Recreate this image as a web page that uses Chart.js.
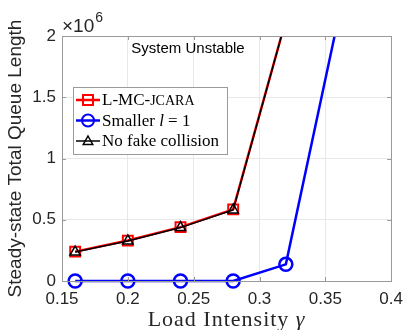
<!DOCTYPE html>
<html>
<head>
<meta charset="utf-8">
<script src="https://cdn.jsdelivr.net/npm/chart.js@4.5.1/dist/chart.umd.min.js"></script>
<style>
  body { margin: 0; background: #fff; }
  #wrap { width: 411px; height: 330px; }
</style>
</head>
<body>
<div id="wrap"><canvas id="chart" width="411" height="330"></canvas></div>
<script>
// load intensity (x) for each series
const gamma = [0.16, 0.2, 0.24, 0.28, 0.32]
const gammaSmaller = [0.16, 0.2, 0.24, 0.28, 0.32, 0.36]

// steady-state total queue length
const queueJcara = [240000, 330000, 440000, 585000, 2130000]
const queueSmaller = [0, 0, 0, 0, 136000, 2150000]
const queueNoFake = [236000, 327000, 436000, 580000, 2130000]

// axis ticks
const xTicks = [0.15, 0.2, 0.25, 0.3, 0.35, 0.4]
const yTicks = [0, 0.5, 1, 1.5, 2] // x 10^6

// legend text, split where the font changes
const seriesLabels = [
  [['L-MC-', 'n'], ['JCARA', 'sc']],
  [['Smaller ', 'n'], ['l', 'i'], [' = 1', 'n']],
  [['No fake collision', 'n']]
]
const seriesColors = ['#ff0000', '#0000ff', '#000000']
const seriesMarkers = ['rect', 'circle', 'triangle']

const yTitle = 'Steady-state Total Queue Length'
const xTitle = 'Load Intensity '
const xTitleSym = 'γ'
const note = 'System Unstable'

const frameColor = '#9a9a9a'
const textColor = '#262626'
const serif = '"Liberation Serif", "DejaVu Serif", serif'
const sans = '"Liberation Sans", Arial, sans-serif'

function toPoints (xs, ys) {
  return xs.map((x, i) => ({ x: x, y: ys[i] }))
}

function marker (ctx, style, x, y, r) {
  ctx.beginPath()
  if (style === 'rect') {
    ctx.rect(x - r, y - r, 2 * r, 2 * r)
  } else if (style === 'circle') {
    ctx.arc(x, y, r, 0, Math.PI * 2)
  } else {
    ctx.moveTo(x, y - r)
    ctx.lineTo(x + r * 0.95, y + r * 0.7)
    ctx.lineTo(x - r * 0.95, y + r * 0.7)
    ctx.closePath()
  }
  ctx.stroke()
}

function richText (ctx, parts, x, y, size) {
  for (const [txt, kind] of parts) {
    if (kind === 'sc') ctx.font = Math.round(size * 0.8) + 'px ' + serif
    else if (kind === 'i') ctx.font = 'italic ' + size + 'px ' + serif
    else ctx.font = size + 'px ' + serif
    ctx.fillText(txt, x, y)
    x += ctx.measureText(txt).width
  }
}

// box, inward ticks, legend and the loose labels
const decorations = {
  id: 'decorations',
  afterDraw (chart) {
    const ctx = chart.ctx
    const a = chart.chartArea
    const xs = chart.scales.x
    const ys = chart.scales.y
    ctx.save()

    ctx.strokeStyle = frameColor
    ctx.lineWidth = 1
    ctx.strokeRect(Math.round(a.left) + 0.5, Math.round(a.top) + 0.5, Math.round(a.right - a.left), Math.round(a.bottom - a.top))
    ctx.beginPath()
    for (const v of xTicks) {
      const px = Math.round(xs.getPixelForValue(v)) + 0.5
      ctx.moveTo(px, a.bottom); ctx.lineTo(px, a.bottom - 4)
      ctx.moveTo(px, a.top); ctx.lineTo(px, a.top + 4)
    }
    for (const v of yTicks) {
      const py = Math.round(ys.getPixelForValue(v * 1e6)) + 0.5
      ctx.moveTo(a.left, py); ctx.lineTo(a.left + 4, py)
      ctx.moveTo(a.right, py); ctx.lineTo(a.right - 4, py)
    }
    ctx.stroke()

    // multiplier
    ctx.fillStyle = textColor
    ctx.textBaseline = 'alphabetic'
    ctx.textAlign = 'left'
    ctx.font = '19px ' + sans
    ctx.fillText('×10', a.left, 32)
    const w = ctx.measureText('×10').width
    ctx.font = '14px ' + sans
    ctx.fillText('6', a.left + w + 1, 22)

    // note
    ctx.font = '15px ' + sans
    ctx.fillStyle = '#000'
    ctx.textAlign = 'center'
    ctx.textBaseline = 'middle'
    ctx.fillText(note, 188, 49)

    // x title
    ctx.letterSpacing = '1px'
    ctx.font = '22px ' + serif
    const w1 = ctx.measureText(xTitle).width
    ctx.font = 'italic 22px ' + serif
    const w2 = ctx.measureText(xTitleSym).width
    const x0 = (a.left + a.right) / 2 - (w1 + w2) / 2
    ctx.textAlign = 'left'
    ctx.textBaseline = 'alphabetic'
    ctx.fillStyle = textColor
    ctx.font = '22px ' + serif
    ctx.fillText(xTitle, x0, 326)
    ctx.font = 'italic 22px ' + serif
    ctx.fillText(xTitleSym, x0 + w1, 326)
    ctx.letterSpacing = '0px'

    // legend
    const lx = 73, ly = 87, lw = 154, lh = 67
    ctx.fillStyle = '#fff'
    ctx.fillRect(lx, ly, lw, lh)
    ctx.strokeStyle = frameColor
    ctx.strokeRect(lx + 0.5, ly + 0.5, lw, lh)
    seriesLabels.forEach((parts, i) => {
      const y = 100 + i * 20.5
      ctx.strokeStyle = seriesColors[i]
      ctx.lineWidth = i === 2 ? 1.5 : 2.5
      ctx.beginPath()
      ctx.moveTo(76, y); ctx.lineTo(100, y)
      ctx.stroke()
      ctx.lineWidth = i === 2 ? 1.5 : 2
      marker(ctx, seriesMarkers[i], 88, y, i === 1 ? 6 : 5)
      ctx.fillStyle = '#000'
      ctx.textBaseline = 'middle'
      richText(ctx, parts, 102, y + 1, 17)
    })
    ctx.restore()
  }
}

const ctx = document.getElementById('chart').getContext('2d')
new Chart(ctx, {
  type: 'line',
  data: {
    datasets: [
      {
        label: 'L-MC-JCARA',
        data: toPoints(gamma, queueJcara),
        order: 2,
        borderColor: seriesColors[0],
        borderWidth: 2.5,
        pointStyle: 'rect',
        pointRadius: 7,
        pointBorderWidth: 2,
        pointBorderColor: seriesColors[0],
        pointBackgroundColor: 'rgba(0,0,0,0)',
        clip: { left: 10, right: 0, top: 0, bottom: 10 }
      },
      {
        label: 'Smaller l = 1',
        data: toPoints(gammaSmaller, queueSmaller),
        order: 1,
        borderColor: seriesColors[1],
        borderWidth: 2.5,
        pointStyle: 'circle',
        pointRadius: 6.5,
        pointBorderWidth: 2.5,
        pointBorderColor: seriesColors[1],
        pointBackgroundColor: 'rgba(0,0,0,0)',
        clip: { left: 10, right: 0, top: 0, bottom: 10 }
      },
      {
        label: 'No fake collision',
        data: toPoints(gamma, queueNoFake),
        order: 0,
        borderColor: seriesColors[2],
        borderWidth: 1.5,
        pointStyle: 'triangle',
        pointRadius: 6,
        pointBorderWidth: 1.5,
        pointBorderColor: seriesColors[2],
        pointBackgroundColor: 'rgba(0,0,0,0)',
        clip: { left: 10, right: 0, top: 0, bottom: 10 }
      }
    ]
  },
  options: {
    responsive: false,
    animation: false,
    events: [],
    layout: { padding: { top: 36, right: 14, left: 0, bottom: 0 } },
    plugins: {
      legend: { display: false },
      tooltip: { enabled: false }
    },
    scales: {
      x: {
        type: 'linear',
        min: 0.15,
        max: 0.4,
        afterBuildTicks (axis) { axis.ticks = xTicks.map(v => ({ value: v })) },
        afterFit (axis) { axis.height = 49 },
        grid: { color: '#e8e8e8', drawTicks: false },
        border: { display: false },
        ticks: {
          padding: 8,
          color: textColor,
          font: { family: sans, size: 17 },
          maxRotation: 0,
          callback: v => String(+v.toFixed(2))
        }
      },
      y: {
        min: 0,
        max: 2e6,
        afterBuildTicks (axis) { axis.ticks = yTicks.map(v => ({ value: v * 1e6 })) },
        afterFit (axis) { axis.width = 62 },
        grid: { color: '#e8e8e8', drawTicks: false },
        border: { display: false },
        title: {
          display: true,
          text: yTitle,
          color: textColor,
          font: { family: sans, size: 19 },
          padding: { top: 4, bottom: 0 }
        },
        ticks: {
          padding: 6,
          color: textColor,
          font: { family: sans, size: 17 },
          callback: v => String(+(v / 1e6).toFixed(1))
        }
      }
    }
  },
  plugins: [decorations]
})
</script>
</body>
</html>
